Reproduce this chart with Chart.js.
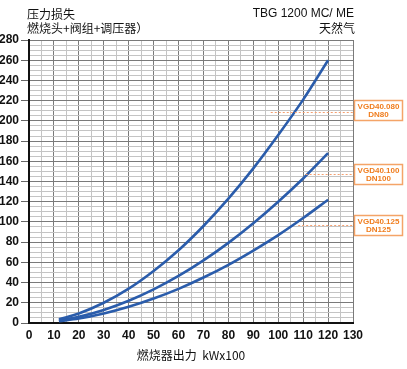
<!DOCTYPE html>
<html>
<head>
<meta charset="utf-8">
<script src="https://cdn.jsdelivr.net/npm/chart.js@4.4.0/dist/chart.umd.min.js"></script>
<style>
  html, body { margin: 0; padding: 0; background: #fff; }
  #wrap { width: 407px; height: 369px; }
</style>
</head>
<body>
<div id="wrap"><canvas id="myChart"></canvas></div>
<script>
// burner output (kW x 100) and pressure loss for each valve size
const output = [12, 20, 30, 40, 50, 60, 70, 80, 90, 100, 110, 120];
const lossDN80 = [3.7, 9.4, 20, 34, 51.5, 72, 96, 123, 153, 186, 221, 260];
const lossDN100 = [2.4, 6.1, 12.9, 22, 33.3, 46.6, 62, 79.3, 98.7, 120, 143, 168];
const lossDN125 = [1.7, 4.4, 9.4, 16, 24.2, 33.8, 45, 57.6, 71.7, 87, 103.9, 122];

const valveNames = ['VGD40.080', 'VGD40.100', 'VGD40.125'];
const valveSizes = ['DN80', 'DN100', 'DN125'];
const valveLevels = [209, 147, 97];   // dotted marker lines (mbar)
const valveLineStart = [97, 111, 108]; // where the dotted line begins (kW x 100)

const BLUE = '#2a5cab';
const ORANGE = '#f07d1e';
const FONT = '"Liberation Sans Narrow", "Liberation Sans", Arial, sans-serif';
const CJK = '"Noto Sans CJK SC", "Liberation Sans", sans-serif';

const ctx = document.getElementById('myChart');

function curve(values) {
    return output.map((x, i) => ({ x: x, y: values[i] }));
}

const lineStyle = {
    borderColor: BLUE,
    borderWidth: 2.6,
    pointRadius: 0,
    fill: false,
    cubicInterpolationMode: 'monotone'
};

// titles and the valve labels on the right
const extras = {
    id: 'extras',
    afterDraw(chart) {
        const c = chart.ctx;
        const xs = chart.scales.x, ys = chart.scales.y;
        c.save();
        c.fillStyle = '#111';
        c.font = '12px ' + CJK;
        c.textBaseline = 'middle';
        c.textAlign = 'left';
        c.fillText('压力损失', 27, 14);
        c.fillText('燃烧头+阀组+调压器）', 27, 28);
        c.textAlign = 'right';
        c.font = '12px "Liberation Sans", Arial, sans-serif';
        c.fillText('TBG 1200 MC/ ME', 354, 14);
        c.font = '12px ' + CJK;
        c.fillText('天然气', 355, 28);

        const boxTop = [100, 164, 215];
        for (let i = 0; i < valveLevels.length; i++) {
            const y = Math.round(ys.getPixelForValue(valveLevels[i])) + 0.5;
            c.strokeStyle = '#f5a070';
            c.lineWidth = 1;
            c.setLineDash([2, 2]);
            c.beginPath();
            c.moveTo(xs.getPixelForValue(valveLineStart[i]), y);
            c.lineTo(xs.right, y);
            c.stroke();
            c.setLineDash([]);

            c.strokeStyle = '#f4a468';
            c.lineWidth = 1.5;
            c.strokeRect(354.5, boxTop[i] + 0.5, 48, 20);
            c.fillStyle = ORANGE;
            c.font = 'bold 8px "Liberation Sans", Arial, sans-serif';
            c.textAlign = 'center';
            c.fillText(valveNames[i], 378.5, boxTop[i] + 6.5);
            c.fillText(valveSizes[i], 378.5, boxTop[i] + 15);
        }
        c.restore();
    }
};

const config = {
    type: 'line',
    data: {
        datasets: [
            Object.assign({ label: 'DN80', data: curve(lossDN80) }, lineStyle),
            Object.assign({ label: 'DN100', data: curve(lossDN100) }, lineStyle),
            Object.assign({ label: 'DN125', data: curve(lossDN125) }, lineStyle)
        ]
    },
    options: {
        responsive: true,
        maintainAspectRatio: false,
        animation: false,
        layout: { padding: { top: 40, right: 54, left: 0, bottom: 0 } },
        plugins: {
            legend: { display: false },
            tooltip: { enabled: false }
        },
        scales: {
            x: {
                type: 'linear',
                min: 0,
                max: 130,
                afterFit(scale) { scale.height = 46; },
                ticks: {
                    stepSize: 5,
                    autoSkip: false,
                    maxRotation: 0,
                    padding: 2,
                    color: '#111',
                    font: { family: FONT, size: 12, weight: 'bold' },
                    callback: v => (v % 10 === 0 ? v : '')
                },
                grid: {
                    color: c => (c.tick && c.tick.value % 10 === 0 ? '#7a7a7a' : '#c4c4c4'),
                    tickColor: 'rgba(0,0,0,0)',
                    tickLength: 3,
                    lineWidth: 1
                },
                border: { color: '#111', width: 2 },
                title: {
                    display: true,
                    text: '燃烧器出力  kWx100',
                    color: '#111',
                    font: { family: CJK, size: 12 },
                    padding: { top: 0, bottom: 6 }
                }
            },
            y: {
                min: 0,
                max: 280,
                afterFit(scale) { scale.width = 29; },
                ticks: {
                    stepSize: 5,
                    autoSkip: false,
                    padding: 2,
                    color: '#111',
                    font: { family: FONT, size: 12, weight: 'bold' },
                    callback: v => (v % 20 === 0 ? v : '')
                },
                grid: {
                    color: c => (c.tick && c.tick.value % 20 === 0 ? '#7a7a7a' : '#c4c4c4'),
                    tickColor: c => (c.tick && c.tick.value % 20 === 0 ? '#666' : 'rgba(0,0,0,0)'),
                    tickLength: 8,
                    lineWidth: 1
                },
                border: { color: '#111', width: 2 }
            }
        }
    },
    plugins: [extras]
};

new Chart(ctx, config);
</script>
</body>
</html>
